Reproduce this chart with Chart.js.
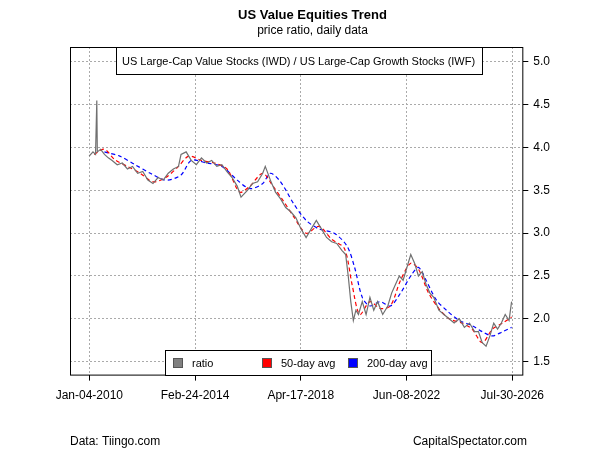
<!DOCTYPE html>
<html><head><meta charset="utf-8">
<script src="https://cdn.jsdelivr.net/npm/chart.js@4"></script>
<style>body{margin:0;background:#fff}#wrap{width:600px;height:450px}</style>
</head><body><div id="wrap"><canvas id="c"></canvas></div>
<script>
// x = decimal year
var ratioX = [2010.0,2010.15,2010.25,2010.3,2010.32,2010.45,2010.6,2010.75,2010.9,2011.1,2011.3,2011.5,2011.7,2011.9,2012.1,2012.3,2012.5,2012.7,2012.9,2013.1,2013.3,2013.5,2013.6,2013.8,2014.0,2014.2,2014.4,2014.6,2014.8,2015.0,2015.2,2015.4,2015.6,2015.8,2015.95,2016.2,2016.4,2016.6,2016.8,2016.9,2017.1,2017.3,2017.5,2017.7,2017.9,2018.1,2018.3,2018.5,2018.7,2018.9,2019.1,2019.3,2019.5,2019.7,2019.9,2020.05,2020.15,2020.25,2020.35,2020.45,2020.55,2020.7,2020.85,2021.0,2021.15,2021.3,2021.5,2021.7,2021.85,2022.0,2022.15,2022.3,2022.45,2022.6,2022.75,2022.9,2023.05,2023.2,2023.35,2023.5,2023.7,2023.9,2024.1,2024.3,2024.5,2024.7,2024.9,2025.1,2025.25,2025.4,2025.55,2025.7,2025.85,2026.0,2026.15,2026.3,2026.45,2026.55];
var ratioY = [3.9,3.95,3.92,4.55,3.95,3.98,3.92,3.88,3.85,3.8,3.82,3.75,3.78,3.7,3.72,3.62,3.58,3.65,3.62,3.7,3.75,3.78,3.92,3.95,3.85,3.8,3.88,3.82,3.85,3.78,3.8,3.72,3.65,3.55,3.42,3.5,3.58,3.6,3.7,3.78,3.62,3.48,3.4,3.3,3.25,3.18,3.05,2.95,3.05,3.15,3.05,2.95,2.9,2.88,2.8,2.75,2.5,2.2,1.98,2.1,2.05,2.2,2.05,2.25,2.1,2.2,2.05,2.15,2.3,2.4,2.5,2.45,2.6,2.75,2.65,2.5,2.55,2.4,2.3,2.25,2.1,2.05,2.0,1.95,2.0,1.9,1.95,1.85,1.85,1.72,1.68,1.8,1.95,1.88,1.95,2.05,1.98,2.2];
var ma50X = [2010.2,2010.6,2011.0,2011.5,2012.0,2012.5,2013.0,2013.5,2013.9,2014.4,2014.9,2015.4,2015.9,2016.3,2016.8,2017.2,2017.6,2018.0,2018.5,2019.0,2019.5,2020.0,2020.3,2020.6,2021.0,2021.4,2021.8,2022.2,2022.6,2022.9,2023.3,2023.7,2024.1,2024.6,2025.0,2025.4,2025.8,2026.2,2026.55];
var ma50Y = [3.92,3.98,3.86,3.78,3.7,3.6,3.65,3.78,3.9,3.85,3.82,3.75,3.48,3.55,3.7,3.55,3.38,3.2,3.0,3.08,2.93,2.82,2.4,2.05,2.2,2.12,2.15,2.45,2.65,2.58,2.3,2.12,2.0,1.95,1.88,1.72,1.88,1.95,2.02];
var ma200X = [2010.6,2011.2,2011.8,2012.4,2013.0,2013.6,2014.0,2014.6,2015.2,2015.8,2016.3,2016.8,2017.1,2017.5,2018.0,2018.5,2019.0,2019.6,2020.1,2020.4,2020.7,2021.0,2021.4,2021.8,2022.2,2022.6,2022.9,2023.2,2023.6,2024.0,2024.5,2025.0,2025.4,2025.8,2026.2,2026.55];
var ma200Y = [3.95,3.9,3.8,3.7,3.62,3.68,3.85,3.82,3.78,3.62,3.52,3.58,3.7,3.6,3.35,3.15,3.05,3.0,2.85,2.6,2.25,2.15,2.2,2.15,2.3,2.5,2.6,2.45,2.22,2.1,1.98,1.92,1.85,1.8,1.85,1.9];
var tickX = [2010.008,2014.148,2018.29,2022.435,2026.577];
var tickLabels = ['Jan-04-2010','Feb-24-2014','Apr-17-2018','Jun-08-2022','Jul-30-2026'];
var yTicks = [1.5,2.0,2.5,3.0,3.5,4.0,4.5,5.0];

function pts(xs, ys){ return xs.map(function(x,i){ return {x:x, y:ys[i]}; }); }

var extra = {
  id:'extra',
  afterDraw: function(ch){
    var c = ch.ctx, a = ch.chartArea;
    c.save();
    c.strokeStyle='#000'; c.lineWidth=1;
    c.strokeRect(a.left+0.5,a.top+0.5,a.right-a.left,a.bottom-a.top);
    c.fillStyle='#000'; c.font='12px Arial, "Liberation Sans"';
    c.textBaseline='alphabetic'; c.textAlign='left';
    c.fillText('Data: Tiingo.com',70,445);
    c.textAlign='right'; c.fillText('CapitalSpectator.com',527,445);
    // top label box
    c.fillStyle='#fff'; c.fillRect(116,47,366,27); c.strokeRect(116.5,47.5,366,27);
    c.fillStyle='#000'; c.font='11px Arial, "Liberation Sans"'; c.textAlign='left';
    c.fillText('US Large-Cap Value Stocks (IWD) / US Large-Cap Growth Stocks (IWF)',122,65);
    // legend box
    c.fillStyle='#fff'; c.fillRect(165,350,266,25); c.strokeRect(165.5,350.5,266,25);
    var items=[['ratio','#808080',173],['50-day avg','#ff0000',262],['200-day avg','#0000ff',348]];
    items.forEach(function(it){
      c.fillStyle=it[1]; c.fillRect(it[2],358,9,9); c.strokeStyle='#555'; c.strokeRect(it[2]+0.5,358.5,9,9);
      c.fillStyle='#000'; c.fillText(it[0],it[2]+19,367);
    });
    c.restore();
  }
};

new Chart(document.getElementById('c'), {
  type:'line',
  data:{datasets:[
    {label:'ratio',data:pts(ratioX,ratioY),borderColor:'#707070',borderWidth:1.2,pointRadius:0,tension:0},
    {label:'50-day avg',data:pts(ma50X,ma50Y),borderColor:'#ff0000',borderWidth:1.2,borderDash:[4,3],pointRadius:0,tension:0.3},
    {label:'200-day avg',data:pts(ma200X,ma200Y),borderColor:'#0000ff',borderWidth:1.2,borderDash:[4,3],pointRadius:0,tension:0.3}
  ]},
  options:{
    responsive:true, maintainAspectRatio:false, animation:false,
    layout:{padding:{left:70,right:45,top:0,bottom:39}},
    plugins:{
      legend:{display:false}, tooltip:{enabled:false},
      title:{display:true,text:'US Value Equities Trend',color:'#000',font:{size:13,weight:'bold',family:'Arial, "Liberation Sans"'},padding:{top:8,bottom:0}},
      subtitle:{display:true,text:'price ratio, daily data',color:'#000',font:{size:12,family:'Arial, "Liberation Sans"'},padding:{top:0,bottom:9}}
    },
    scales:{
      x:{type:'linear',min:2009.25,max:2026.97,
        afterBuildTicks:function(s){ s.ticks = tickX.map(function(v){return {value:v};}); },
        ticks:{color:'#000',font:{size:12,family:'Arial, "Liberation Sans"'},maxRotation:0,autoSkip:false,padding:8,
          callback:function(v){ var i=tickX.indexOf(v); return i>=0?tickLabels[i]:''; }},
        grid:{color:'#aaa',tickColor:'#000',tickLength:6},border:{display:true,color:'rgba(0,0,0,0)',dash:[2,2]}
      },
      y:{position:'right',min:1.348,max:5.175,
        afterBuildTicks:function(s){ s.ticks = yTicks.map(function(v){return {value:v};}); },
        ticks:{color:'#000',font:{size:12,family:'Arial, "Liberation Sans"'},padding:5,callback:function(v){return v.toFixed(1);}},
        grid:{color:'#aaa',tickColor:'#000',tickLength:6},border:{display:true,color:'rgba(0,0,0,0)',dash:[2,2]}
      }
    }
  },
  plugins:[extra]
});
</script></body></html>
